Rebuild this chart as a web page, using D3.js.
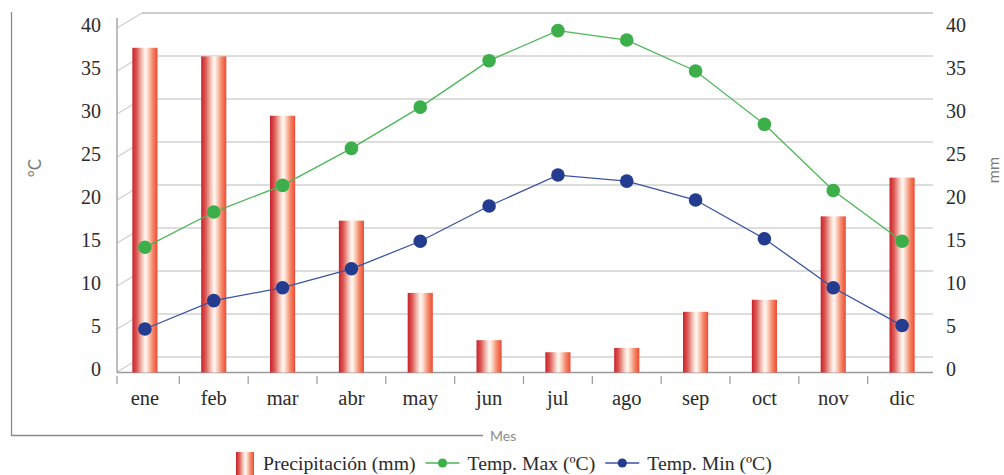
<!DOCTYPE html>
<html>
<head>
<meta charset="utf-8">
<script src="https://cdn.jsdelivr.net/npm/d3@7"></script>
<style>
  html, body { margin: 0; padding: 0; background: #fff; }
  svg { display: block; }
</style>
</head>
<body>
<svg id="chart" width="1004" height="475"></svg>
<script>
// Climograma: precipitación mensual (barras) y temperaturas máx./mín. (líneas)
const months = ["ene", "feb", "mar", "abr", "may", "jun", "jul", "ago", "sep", "oct", "nov", "dic"];
const precipitation = [37.7, 36.7, 29.8, 17.6, 9.2, 3.7, 2.3, 2.8, 7.0, 8.4, 18.1, 22.6];
const tempMax = [14.5, 18.6, 21.7, 26.0, 30.8, 36.2, 39.7, 38.6, 35.0, 28.8, 21.1, 15.2];
const tempMin = [5.0, 8.3, 9.8, 12.0, 15.2, 19.3, 22.9, 22.2, 20.0, 15.5, 9.8, 5.4];
const yTicks = [0, 5, 10, 15, 20, 25, 30, 35, 40];

const svg = d3.select("#chart");
const serif = "'Liberation Serif', 'Times New Roman', serif";
const sans = "Lato, 'Open Sans', sans-serif";

// Layout of the pseudo-3D plot box
const axisX = 117, rightX = 933, floorY = 372.5;
const depthX = 25, depthY = -15;   // offset of the back wall

const x = d3.scaleBand().domain(months).range([110.5, 936.5]);
const y = d3.scaleLinear().domain([0, 40]).range([372, 28]);   // °C (left) and mm (right) share 0–40
const barW = x.step() * 0.365;
const cx = m => x(m) + x.bandwidth() / 2;

// Bar gradient
const defs = svg.append("defs");
const grad = defs.append("linearGradient").attr("id", "barGrad")
  .attr("x1", "0%").attr("x2", "100%").attr("y1", "0%").attr("y2", "0%");
[[0, "#c9202a"], [0.18, "#dc5a55"], [0.38, "#f3c2b6"], [0.52, "#fffaf6"], [0.62, "#fcd9c8"],
 [0.82, "#f48466"], [1, "#ee4a33"]].forEach(([o, c]) =>
  grad.append("stop").attr("offset", o).attr("stop-color", c));

// Outer frame
svg.append("path").attr("d", "M11.5,12 V435.5 H483")
  .attr("fill", "none").attr("stroke", "#8a8a8a").attr("stroke-width", 1.3);
svg.append("text").attr("x", 490).attr("y", 441).text("Mes")
  .style("font-family", sans).attr("font-size", 14).attr("fill", "#8c8c8c");

// Back-wall gridlines and side-wall diagonals
const grid = svg.append("g");
yTicks.forEach(t => {
  const yf = y(t), yb = yf + depthY;
  grid.append("line").attr("x1", axisX + depthX).attr("x2", rightX).attr("y1", yb).attr("y2", yb)
    .attr("stroke", t === 40 ? "#bdbdbd" : "#d2d2d2").attr("stroke-width", 1.4);
  grid.append("line").attr("x1", axisX).attr("y1", yf).attr("x2", axisX + depthX).attr("y2", yb)
    .attr("stroke", "#cfcfcf").attr("stroke-width", 1.2);
});

// Left vertical axis and floor
svg.append("line").attr("x1", axisX).attr("x2", axisX).attr("y1", 18).attr("y2", floorY)
  .attr("stroke", "#9a9a9a").attr("stroke-width", 1.3);
svg.append("line").attr("x1", axisX).attr("x2", rightX).attr("y1", floorY).attr("y2", floorY)
  .attr("stroke", "#9a9a9a").attr("stroke-width", 1.3);

// Category ticks below the floor
const tickXs = [axisX].concat(months.slice(1).map(m => x(m)));
svg.append("g").selectAll("line").data(tickXs).join("line")
  .attr("x1", d => d).attr("x2", d => d).attr("y1", 376).attr("y2", 384)
  .attr("stroke", "#9a9a9a").attr("stroke-width", 1.2);

// Month labels
svg.append("g").selectAll("text").data(months).join("text")
  .attr("x", d => cx(d)).attr("y", 405).attr("text-anchor", "middle")
  .style("font-family", serif).attr("font-size", 20.5).attr("fill", "#2b2b2b").text(d => d);

// Left (°C) and right (mm) tick labels
const leftAxis = d3.axisLeft(y).tickValues(yTicks).tickSize(0).tickPadding(0);
const gl = svg.append("g").attr("transform", "translate(101,2)").call(leftAxis);
const rightAxis = d3.axisRight(y).tickValues(yTicks).tickSize(0).tickPadding(0);
const gr = svg.append("g").attr("transform", "translate(946,2)").call(rightAxis);
[gl, gr].forEach(g => {
  g.select(".domain").remove();
  g.attr("font-family", null).attr("font-size", null);
  g.selectAll("text").style("font-family", serif).style("font-size", "20px").attr("fill", "#2b2b2b")
    .attr("dy", "0.05em");
});

// Axis titles
svg.append("text").attr("transform", "translate(41,168) rotate(-90)").attr("text-anchor", "middle")
  .style("font-family", sans).attr("font-size", 17).attr("fill", "#7a7a7a").text("°C");
svg.append("text").attr("transform", "translate(999,170) rotate(-90)").attr("text-anchor", "middle")
  .style("font-family", sans).attr("font-size", 16).attr("fill", "#7a7a7a").text("mm");

// Precipitation bars
svg.append("g").selectAll("rect").data(months).join("rect")
  .attr("x", (d) => cx(d) - barW / 2).attr("width", barW)
  .attr("y", (d, i) => y(precipitation[i]))
  .attr("height", (d, i) => floorY - y(precipitation[i]))
  .attr("fill", "url(#barGrad)");

// Temperature lines with markers
const series = [
  { values: tempMax, color: "#3daf4a", line: "#4cb657" },
  { values: tempMin, color: "#233c8f", line: "#3a54a3" }
];
const lineGen = d3.line().x((d, i) => cx(months[i])).y(d => y(d));
series.forEach(s => {
  svg.append("path").datum(s.values).attr("d", lineGen)
    .attr("fill", "none").attr("stroke", s.line).attr("stroke-width", 1.3);
  svg.append("g").selectAll("circle").data(s.values).join("circle")
    .attr("cx", (d, i) => cx(months[i])).attr("cy", d => y(d)).attr("r", 6.8)
    .attr("fill", s.color);
});

// Legend
const legend = svg.append("g");
const ly = 463;
let lx = 236;
legend.append("rect").attr("x", lx).attr("y", 452).attr("width", 18).attr("height", 23)
  .attr("fill", "url(#barGrad)");
lx += 27;
const legendItems = [
  { label: "Precipitación (mm)" },
  { label: "Temp. Max (ºC)", s: series[0] },
  { label: "Temp. Min (ºC)", s: series[1] }
];
legendItems.forEach((it) => {
  if (it.s) {
    legend.append("line").attr("x1", lx).attr("x2", lx + 34).attr("y1", ly).attr("y2", ly)
      .attr("stroke", it.s.line).attr("stroke-width", 1.3);
    legend.append("circle").attr("cx", lx + 17).attr("cy", ly).attr("r", 4.6).attr("fill", it.s.color);
    lx += 42;
  }
  const t = legend.append("text").attr("x", lx).attr("y", ly + 7)
    .style("font-family", serif).attr("font-size", 19.7).attr("fill", "#2b2b2b").text(it.label);
  lx += t.node().getComputedTextLength() + 10;
});
</script>
</body>
</html>
